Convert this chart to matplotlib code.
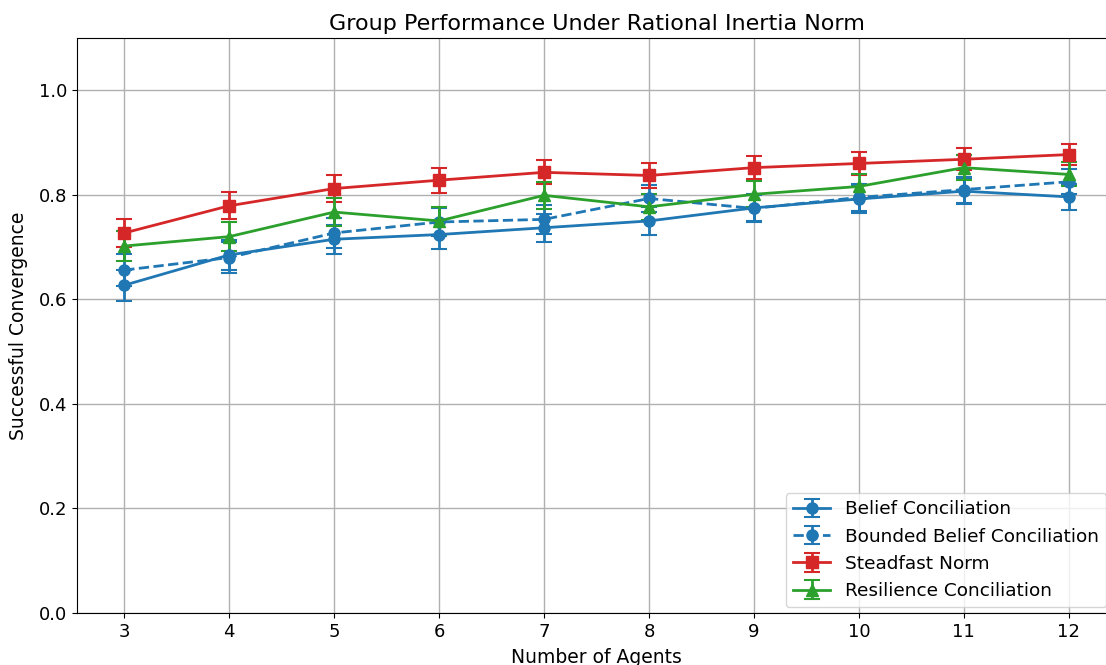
import matplotlib
matplotlib.use("Agg")
import matplotlib.pyplot as plt

agents = [3, 4, 5, 6, 7, 8, 9, 10, 11, 12]

belief = [0.627, 0.685, 0.715, 0.724, 0.737, 0.750, 0.775, 0.792, 0.807, 0.796]
belief_err = [0.030, 0.029, 0.028, 0.027, 0.027, 0.027, 0.026, 0.026, 0.025, 0.025]

bounded = [0.656, 0.680, 0.727, 0.748, 0.753, 0.793, 0.774, 0.795, 0.810, 0.825]
bounded_err = [0.030, 0.029, 0.028, 0.027, 0.027, 0.026, 0.026, 0.025, 0.025, 0.024]

steadfast = [0.727, 0.779, 0.812, 0.828, 0.843, 0.837, 0.852, 0.860, 0.868, 0.877]
steadfast_err = [0.027, 0.026, 0.025, 0.024, 0.023, 0.023, 0.022, 0.022, 0.021, 0.020]

resilience = [0.702, 0.720, 0.767, 0.750, 0.799, 0.777, 0.801, 0.816, 0.852, 0.839]
resilience_err = [0.028, 0.028, 0.027, 0.026, 0.026, 0.025, 0.025, 0.024, 0.024, 0.023]

fig = plt.figure(figsize=(11.06, 6.65), dpi=100)
ax = fig.add_axes([77 / 1106, 1 - 613 / 665, (1116 - 77) / 1106, (613 - 38) / 665])

kw = dict(capsize=6, linewidth=2, elinewidth=2, capthick=1.5, markersize=8)
ax.errorbar(agents, belief, yerr=belief_err, fmt="o-", color="#1f77b4",
            label="Belief Conciliation", **kw)
ax.errorbar(agents, bounded, yerr=bounded_err, fmt="o--", color="#1f77b4",
            label="Bounded Belief Conciliation", **kw)
ax.errorbar(agents, steadfast, yerr=steadfast_err, fmt="s-", color="#d62728",
            label="Steadfast Norm", **kw)
ax.errorbar(agents, resilience, yerr=resilience_err, fmt="^-", color="#2ca02c",
            label="Resilience Conciliation", **kw)

ax.set_xlim(2.55, 12.45)
ax.set_ylim(0, 1.1)
ax.set_xticks(agents)
ax.set_yticks([0.0, 0.2, 0.4, 0.6, 0.8, 1.0])
ax.tick_params(labelsize=13)
ax.grid(True, color="#b0b0b0", linewidth=1)
ax.set_title("Group Performance Under Rational Inertia Norm", fontsize=16)
ax.set_xlabel("Number of Agents", fontsize=13.5, labelpad=5)
ax.set_ylabel("Successful Convergence", fontsize=13.5, labelpad=8)
ax.legend(loc="lower right", fontsize=13.3, bbox_to_anchor=(0.996, 0.0),
          borderaxespad=0.3)

fig.savefig("out.png", dpi=100)
